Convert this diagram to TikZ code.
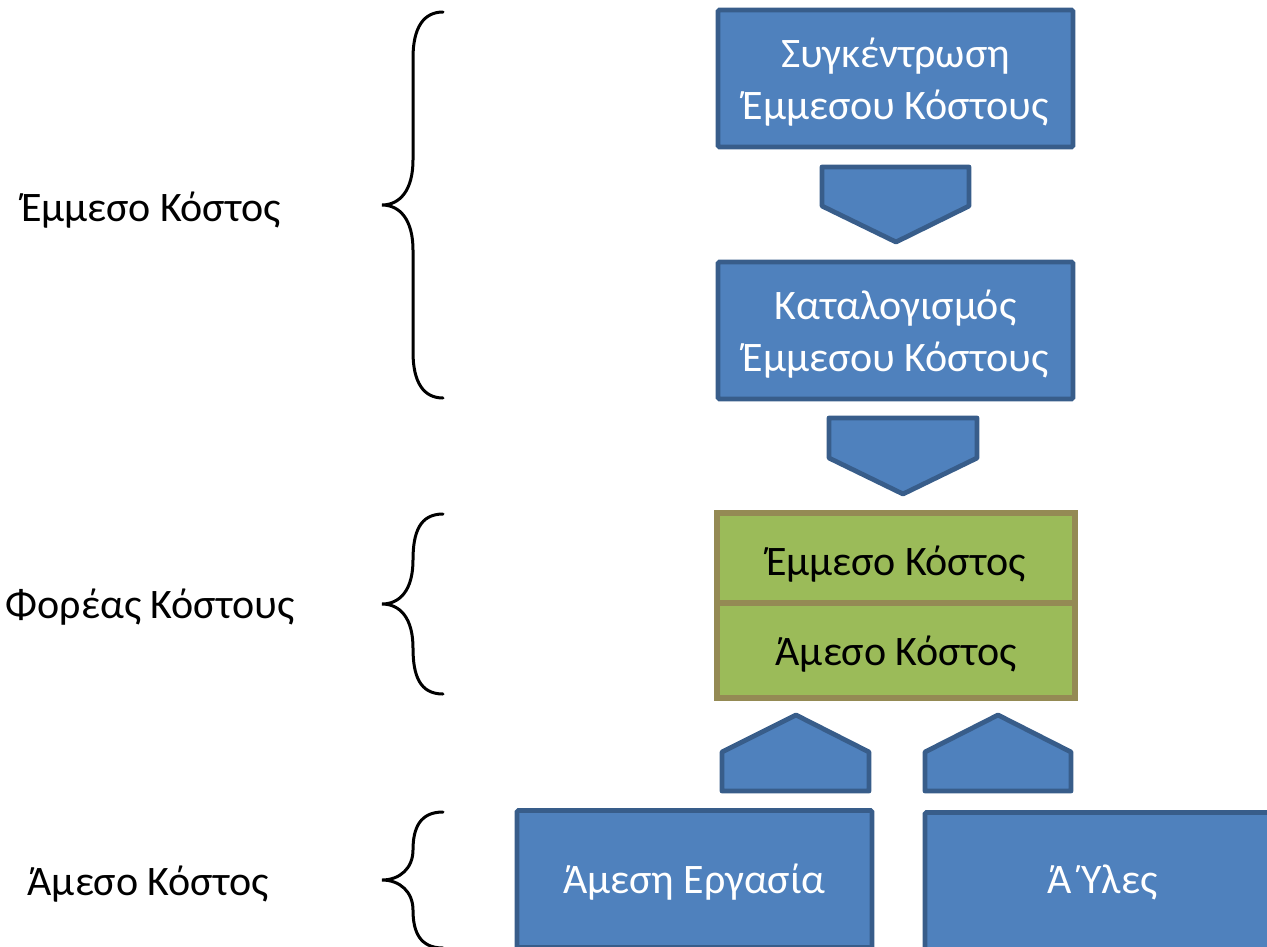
\documentclass[tikz,border=0pt]{standalone}
\usepackage{fontspec}
\setmainfont{Carlito}
\definecolor{boxfill}{HTML}{4F81BD}
\definecolor{boxedge}{HTML}{385D8A}
\definecolor{cellfill}{HTML}{9BBB59}
\definecolor{celledge}{HTML}{948A54}
\begin{document}
\begin{tikzpicture}[x=1pt,y=-1pt,
  txt/.style={font=\fontsize{42}{52}\selectfont, align=center, inner sep=0pt},
  bluebox/.style={draw=boxedge, fill=boxfill, line width=4.8pt,
    rounded corners=1.5pt, minimum width=355pt, minimum height=137pt},
  greencell/.style={draw=celledge, fill=cellfill, line width=5.5pt,
    minimum width=358pt},
  whitetxt/.style={txt, text=white},
  blocktip/.style={draw=boxedge, fill=boxfill, line width=4.8pt, line join=round},
  brace/.style={line width=3pt, line cap=round}]
\useasboundingbox (0,0) rectangle (1267,946);

% indirect cost chain
\node[bluebox] (collect) at (895.5,78.5) {};
\node[whitetxt] (collect-t) at ([yshift=-4pt]collect.center) {Συγκέντρωση\\Έμμεσου Κόστους};
\node[bluebox] (assign) at (895.5,330.5) {};
\node[whitetxt] (assign-t) at ([yshift=-4pt]assign.center) {Καταλογισμός\\Έμμεσου Κόστους};

% cost carrier
\node[greencell, minimum height=90pt] (indirect) at (896,558) {};
\node[greencell, minimum height=95pt] (direct) at (896,650.5) {};
\node[txt] (indirect-t) at ([yshift=-6pt]indirect.center) {Έμμεσο Κόστος};
\node[txt] (direct-t) at ([yshift=-4pt]direct.center) {Άμεσο Κόστος};

% direct cost sources
\node[bluebox] (labour) at (694.5,879) {};
\node[whitetxt] (labour-t) at ([yshift=-3pt]labour.center) {Άμεση Εργασία};
\node[bluebox] (materials) at (1102.5,881) {};
\node[whitetxt] (materials-t) at ([yshift=-1pt]materials.center) {Ά Ύλες};

% block arrows
\draw[blocktip] (822,167) -- (969,167) -- (969,206) -- (896,242) -- (822,206) -- cycle;
\draw[blocktip] (829,418) -- (977,418) -- (977,458) -- (903,494) -- (829,458) -- cycle;
\draw[blocktip] (722,791) -- (869,791) -- (869,752) -- (796,715) -- (722,752) -- cycle;
\draw[blocktip] (925,791) -- (1071,791) -- (1071,752) -- (998,715) -- (925,752) -- cycle;

% braces
\draw[brace] (443,12) .. controls (424,12) and (413,27) .. (413,58) -- (413,160)
  .. controls (413,190) and (400,205) .. (382,205)
  .. controls (400,205) and (413,220) .. (413,250) -- (413,352)
  .. controls (413,383) and (424,398) .. (443,398);
\draw[brace] (443,514) .. controls (420,514) and (413,532) .. (413,560)
  .. controls (413,590) and (400,604) .. (382,604)
  .. controls (400,604) and (413,618) .. (413,648)
  .. controls (413,676) and (420,694) .. (443,694);
\draw[brace] (443,812) .. controls (420,812) and (413,828) .. (413,850)
  .. controls (413,868) and (400,880) .. (382,880)
  .. controls (400,880) and (413,892) .. (413,910)
  .. controls (413,932) and (420,948) .. (443,948);

% level labels
\node[txt] (lvl1) at (151,210) {Έμμεσο Κόστος};
\node[txt] (lvl2) at (150,607) {Φορέας Κόστους};
\node[txt] (lvl3) at (148,884) {Άμεσο Κόστος};
\end{tikzpicture}
\end{document}
